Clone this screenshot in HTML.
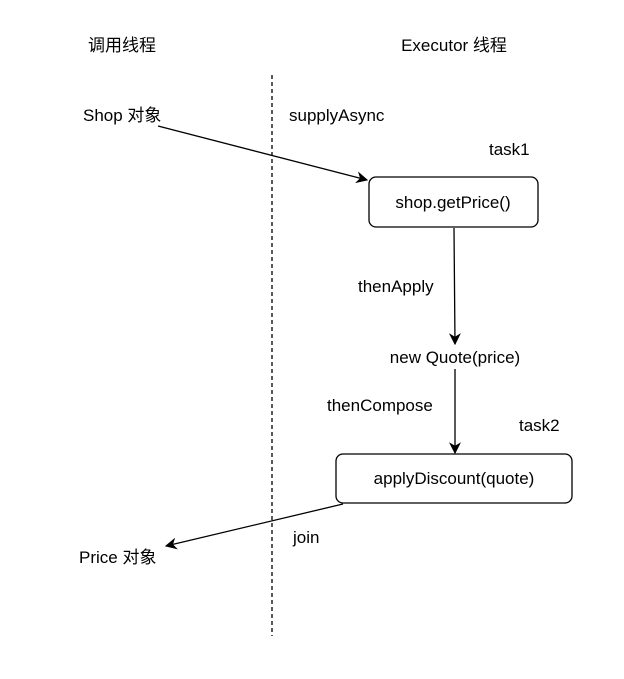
<!DOCTYPE html>
<html><head><meta charset="utf-8"><style>
body{margin:0;background:#fff}
svg text{font-family:"Liberation Sans","Noto Sans CJK SC",sans-serif;font-size:17px;fill:#000}
</style></head><body>
<svg width="624" height="674" xmlns="http://www.w3.org/2000/svg">
<defs><marker id="a" viewBox="0 0 10 10" refX="9" refY="5" markerWidth="12" markerHeight="12" orient="auto" markerUnits="userSpaceOnUse"><path d="M0,0 L10,5 L0,10 L3,5 z" fill="#000"/></marker></defs>
<rect width="624" height="674" fill="#fff"/>
<text x="122" y="51" text-anchor="middle">调用线程</text>
<text x="454" y="51" text-anchor="middle">Executor 线程</text>
<line x1="272" y1="75" x2="272" y2="636" stroke="#000" stroke-width="1.3" stroke-dasharray="4,3"/>
<text x="83" y="121">Shop 对象</text>
<text x="289" y="121">supplyAsync</text>
<text x="489" y="155">task1</text>
<rect x="369" y="177" width="169" height="50" rx="7" fill="#fff" stroke="#000" stroke-width="1.3"/>
<text x="453" y="208" text-anchor="middle">shop.getPrice()</text>
<line x1="158" y1="126" x2="367" y2="180" stroke="#000" stroke-width="1.3" marker-end="url(#a)"/>
<text x="358" y="292">thenApply</text>
<line x1="454" y1="228" x2="455" y2="344" stroke="#000" stroke-width="1.3" marker-end="url(#a)"/>
<text x="455" y="363" text-anchor="middle">new Quote(price)</text>
<text x="327" y="411">thenCompose</text>
<text x="519" y="431">task2</text>
<line x1="455" y1="369" x2="455" y2="453" stroke="#000" stroke-width="1.3" marker-end="url(#a)"/>
<rect x="336" y="454" width="236" height="49" rx="7" fill="#fff" stroke="#000" stroke-width="1.3"/>
<text x="454" y="484" text-anchor="middle">applyDiscount(quote)</text>
<text x="293" y="543">join</text>
<line x1="343" y1="504" x2="166" y2="546" stroke="#000" stroke-width="1.3" marker-end="url(#a)"/>
<text x="79" y="563">Price 对象</text>
</svg>
</body></html>
